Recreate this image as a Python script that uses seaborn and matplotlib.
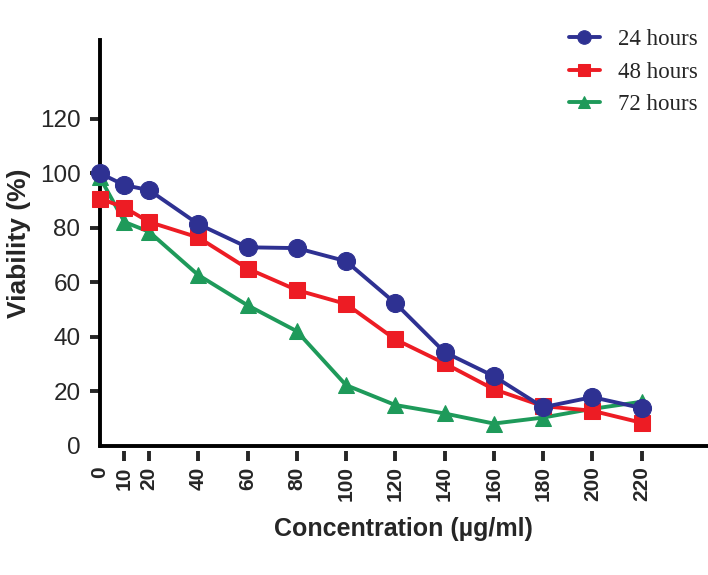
import pandas as pd
import matplotlib
matplotlib.use("Agg")
import matplotlib.pyplot as plt
import seaborn as sns

# Data
concentration = [0, 10, 20, 40, 60, 80, 100, 120, 140, 160, 180, 200, 220]
viability_24h = [100, 95.6, 93.8, 81.3, 72.8, 72.5, 67.7, 52.3, 34.3, 25.5, 14.1, 17.8, 13.8]
viability_48h = [90.7, 87.4, 82.1, 76.4, 65, 57.1, 52, 39, 30.2, 20.7, 14.5, 12.8, 8.4]
viability_72h = [98.5, 82.1, 78.5, 62.6, 51.5, 42, 22.2, 14.9, 11.8, 8.1, 10.3, 13.5, 16.1]
series_names = ["24 hours", "48 hours", "72 hours"]
y_ticks = [0, 20, 40, 60, 80, 100, 120]

df = pd.DataFrame({
    "Concentration": concentration * 3,
    "Viability": viability_24h + viability_48h + viability_72h,
    "Time": [s for s in series_names for _ in concentration],
})

sns.set_style("white")
plt.rcParams["font.family"] = ["Liberation Sans", "DejaVu Sans"]

colors = {"24 hours": "#2E3192", "48 hours": "#ED1C24", "72 hours": "#1E9A5A"}
markers = {"24 hours": "o", "48 hours": "s", "72 hours": "^"}
msizes = {"24 hours": 13, "48 hours": 11.5, "72 hours": 11.5}

fig = plt.figure(figsize=(7.08, 5.75), dpi=100)
ax = fig.add_axes([0.141, 0.225, 0.859, 0.705])

# spines first: moving a spine resets the ticks
for side in ["top", "right"]:
    ax.spines[side].set_visible(False)
ax.spines["left"].set_linewidth(2.8)
ax.spines["left"].set_color("black")
# x ticks sit slightly below the axis line
ax.spines["bottom"].set_position(("outward", 4))
ax.spines["bottom"].set_visible(False)

# draw 72h first so 24h sits on top
for name in reversed(series_names):
    sub = df[df["Time"] == name]
    sns.lineplot(data=sub, x="Concentration", y="Viability", ax=ax,
                 color=colors[name], marker=markers[name], markersize=msizes[name],
                 markeredgecolor=colors[name], linewidth=2.8, label=name,
                 clip_on=False, zorder=3)

ax.axhline(0, color="black", linewidth=2.8, clip_on=False, zorder=1)

ax.set_xlim(0, 247)
ax.set_ylim(0, 148.8)

ax.set_xticks(concentration)
ax.set_xticklabels([str(c) for c in concentration], rotation=90,
                   fontsize=15, fontweight="bold")
ax.set_yticks(y_ticks)
ax.set_yticklabels([str(v) for v in y_ticks], fontsize=17.5)

ax.tick_params(axis="y", direction="out", length=7, width=2.8, left=True, pad=7)
ax.tick_params(axis="x", direction="out", length=7, width=2.8, bottom=True, pad=4)
ax.xaxis.get_major_ticks()[0].tick1line.set_visible(False)
ax.yaxis.get_major_ticks()[0].tick1line.set_visible(False)

ax.set_xlabel("Concentration (µg/ml)", fontsize=18, fontweight="bold", labelpad=11)
ax.set_ylabel("Viability (%)", fontsize=19, fontweight="bold", labelpad=6)

handles, labels = ax.get_legend_handles_labels()
order = [labels.index(n) for n in series_names]
ax.legend([handles[i] for i in order], [labels[i] for i in order],
          loc="upper right", bbox_to_anchor=(1.015, 0.985), bbox_transform=fig.transFigure,
          frameon=False, prop={"family": "Liberation Serif", "size": 16.5},
          handlelength=1.35, handletextpad=0.8, labelspacing=0.5, markerscale=0.75)

fig.savefig("out.png", dpi=100)
